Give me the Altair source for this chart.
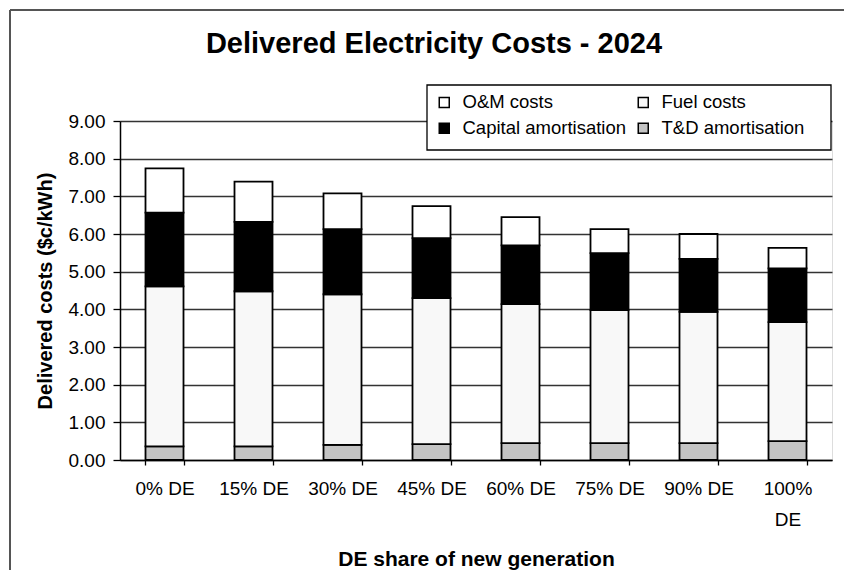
import altair as alt
import pandas as pd

categories = ["0% DE", "15% DE", "30% DE", "45% DE", "60% DE", "75% DE", "90% DE", "100% DE"]
td_amort = [0.36, 0.36, 0.40, 0.42, 0.45, 0.45, 0.45, 0.50]
fuel_costs = [4.25, 4.12, 4.00, 3.88, 3.69, 3.53, 3.48, 3.16]
capital_amort = [1.96, 1.84, 1.73, 1.59, 1.56, 1.51, 1.41, 1.43]
om_costs = [1.17, 1.07, 0.95, 0.85, 0.75, 0.64, 0.66, 0.54]

series_names = ["O&M costs", "Fuel costs", "Capital amortisation", "T&D amortisation"]
series_colors = ["#ffffff", "#f8f8f8", "#000000", "#c4c4c4"]
stack_rank = {"T&D amortisation": 0, "Fuel costs": 1, "Capital amortisation": 2, "O&M costs": 3}
series_values = {
    "T&D amortisation": td_amort,
    "Fuel costs": fuel_costs,
    "Capital amortisation": capital_amort,
    "O&M costs": om_costs,
}
chart_title = "Delivered Electricity Costs - 2024"

rows = []
for i, c in enumerate(categories):
    for name, vals in series_values.items():
        rows.append({"DE": c, "series": name, "value": vals[i], "rank": stack_rank[name]})
df = pd.DataFrame(rows)

FONT = "Liberation Sans, Arial, sans-serif"
W, H = 712, 339

bars = alt.Chart(df).mark_bar(stroke="black", strokeWidth=1.8).encode(
    x=alt.X(
        "DE:N",
        sort=categories,
        scale=alt.Scale(paddingInner=0.573, paddingOuter=0.2865),
        axis=alt.Axis(
            title="DE share of new generation",
            labelAngle=0,
            tickBand="extent",
            labelExpr="datum.label == '100% DE' ? ['100%', 'DE'] : datum.label",
            labelLineHeight=31,
            labelFontSize=19,
            labelFont=FONT,
            labelColor="black",
            labelPadding=14,
            tickSize=5,
            tickColor="black",
            tickWidth=1.3,
            domainColor="black",
            domainWidth=1.5,
            grid=False,
            titleFont=FONT,
            titleFontSize=21,
            titleFontWeight="bold",
            titleColor="black",
            titlePadding=19,
        ),
    ),
    y=alt.Y(
        "value:Q",
        stack="zero",
        scale=alt.Scale(domain=[0, 9], nice=False),
        axis=alt.Axis(
            title="Delivered costs ($c/kWh)",
            values=list(range(10)),
            format=".2f",
            labelFontSize=19,
            labelFont=FONT,
            labelColor="black",
            labelPadding=8,
            tickSize=7,
            tickColor="black",
            tickWidth=1.3,
            domainColor="black",
            domainWidth=1.5,
            grid=True,
            gridColor="#333333",
            gridWidth=1.3,
            titleFont=FONT,
            titleFontSize=20,
            titleFontWeight="bold",
            titleColor="black",
            titlePadding=13,
        ),
    ),
    color=alt.Color(
        "series:N",
        scale=alt.Scale(domain=series_names, range=series_colors),
        legend=alt.Legend(
            title=None,
            orient="none",
            legendX=306,
            legendY=-37,
            direction="horizontal",
            columns=2,
            gridAlign="all",
            symbolType="square",
            symbolSize=100,
            symbolStrokeColor="black",
            symbolStrokeWidth=1.5,
            symbolOpacity=1,
            labelFont=FONT,
            labelFontSize=18.5,
            labelColor="black",
            labelLimit=300,
            labelOffset=9,
            columnPadding=8,
            rowPadding=7,
            padding=9,
        ),
    ),
    order=alt.Order("rank:Q", sort="ascending"),
)

frame_df = pd.DataFrame({"k": [0]})
left_line = alt.Chart(frame_df).mark_rule(color="#555555", strokeWidth=2).encode(
    x=alt.value(-110), y=alt.value(-111), y2=alt.value(H + 110)
)
top_line = alt.Chart(frame_df).mark_rule(color="#555555", strokeWidth=2).encode(
    x=alt.value(-110), x2=alt.value(W + 12), y=alt.value(-111)
)
legend_box = alt.Chart(frame_df).mark_rect(
    fill="white", stroke="black", strokeWidth=1.3
).encode(x=alt.value(307), x2=alt.value(711), y=alt.value(-36), y2=alt.value(29))
title_text = alt.Chart(frame_df).mark_text(
    text=chart_title,
    font=FONT,
    fontSize=29,
    fontWeight="bold",
    color="black",
    align="center",
    baseline="alphabetic",
).encode(x=alt.value(314), y=alt.value(-68))

chart = alt.layer(bars, left_line, top_line, legend_box, title_text).properties(
    width=W,
    height=H,
    autosize=alt.AutoSizeParams(type="none"),
    padding={"left": 112, "top": 113, "right": 12, "bottom": 110},
).configure_view(stroke="#333333", strokeWidth=1.3).configure(background="white")

chart.save("out.html", embed_options={"renderer": "svg", "actions": False})
